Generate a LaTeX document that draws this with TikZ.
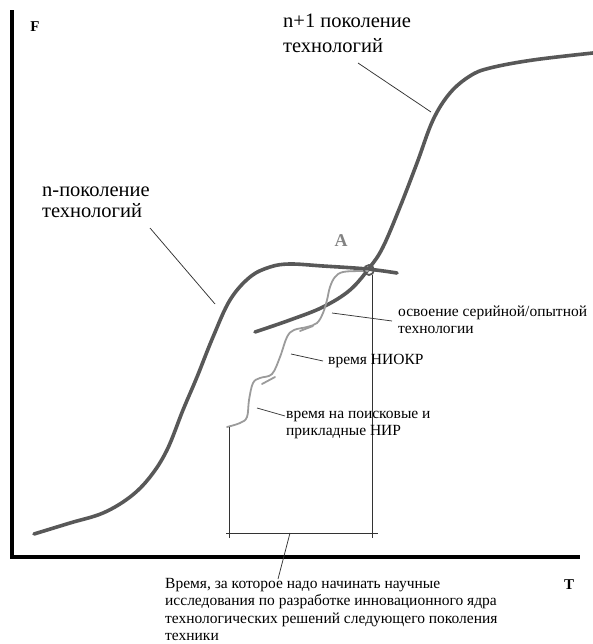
\documentclass[tikz,border=0pt]{standalone}
\usepackage{fontspec}
\setmainfont{Liberation Serif}
\usetikzlibrary{positioning}
\definecolor{curvegray}{RGB}{88,88,88}
\definecolor{wigglegray}{RGB}{155,155,155}
\definecolor{agray}{RGB}{130,130,130}

\begin{document}
\begin{tikzpicture}[
  x=1pt, y=-1pt,
  axis/.style={line width=3.4pt, line cap=rect},
  scurve/.style={line width=3.6pt, draw=curvegray, line cap=round},
  wiggle/.style={line width=1.8pt, draw=wigglegray, line cap=round},
  lead/.style={line width=0.75pt, draw=black!80},
  lbl/.style={inner sep=0pt, anchor=base west, align=left, font=\fontsize{15.5}{17}\selectfont},
  biglbl/.style={inner sep=0pt, anchor=base west, align=left},
  axlbl/.style={inner sep=0pt, font=\fontsize{15}{17}\selectfont\bfseries}
]
\useasboundingbox (0,0) rectangle (593,644);
% axes
\coordinate (Ytop) at (12,12);
\coordinate (O) at (12,557);
\coordinate (Xend) at (578,557);
\draw[axis] (Ytop) -- (O) -- (Xend);
\node[axlbl] (F) at (35,27) {F};
\node[axlbl] (T) at (569,585) {T};
% n generation
\draw[scurve] plot[smooth, tension=0.6] coordinates {(34,534) (70,523) (103,513) (130,497) (150,477) (167,450) (183,410) (197,377) (213,337) (230,300) (250,277) (270,267) (290,264) (323,266) (367,269) (397,273)};
% n+1 generation
\draw[scurve] plot[smooth, tension=0.6] coordinates {(255,332) (290,320) (323,307) (350,290) (370,267) (383,247) (400,207) (417,163) (433,120) (450,93) (470,76) (490,68) (533,60) (593,53)};
% research path
\draw[wiggle] plot[smooth, tension=0.6] coordinates {(227,427) (240,423) (247,417) (249,400) (253,383) (260,378) (272,374) (280,357) (287,337) (294,330) (307,327) (317,323) (323,313) (327,300) (330,287) (335,277) (343,272) (360,271) (368,271)};
\draw[wiggle] (262,384) -- (275,377);
\draw[wiggle] (300,331) -- (313,326);
% point A
\node[circle, draw=curvegray, line width=1.8pt, minimum size=10pt, inner sep=0pt] (Apt) at (369,270) {};
\node[inner sep=0pt, text=agray, font=\fontsize{18}{20}\selectfont\bfseries] (A) at (341,241) {A};
% time bracket
\coordinate (Lt) at (229,427);
\coordinate (Lb) at (229,538);
\coordinate (Rt) at (372,275);
\coordinate (Rb) at (372,538);
\coordinate (Hl) at (226,533);
\coordinate (Hr) at (378,533);
\coordinate (Hm) at (290,533);
\draw[lead] (Lt) -- (Lb);
\draw[lead] (Rt) -- (Rb);
\draw[lead] (Hl) -- (Hr);
% labels (base = last line)
\node[biglbl, font=\fontsize{20.5}{25}\selectfont] (nplus) at (283,53) {n+1 поколение\\технологий};
\node[biglbl, font=\fontsize{20.5}{21.5}\selectfont] (ngen) at (42,218) {n-поколение\\технологий};
\node[lbl] (osv) at (398,333) {освоение серийной/опытной\\технологии};
\node[lbl] (niokr) at (328,364) {время НИОКР};
\node[lbl] (nir) at (286,435) {время на поисковые и\\прикладные НИР};
\node[lbl, font=\fontsize{15.5}{17.5}\selectfont] (start) at (165,640.5) {Время, за которое надо начинать научные\\исследования по разработке инновационного ядра\\технологических решений следующего поколения\\техники};
% leaders
\coordinate (nplusA) at (358,63);
\coordinate (nplusB) at (431,112);
\coordinate (ngenA) at (150,228);
\coordinate (ngenB) at (215,304);
\coordinate (osvA) at (332,313);
\coordinate (osvB) at (392,321);
\coordinate (niokrA) at (291,354);
\coordinate (niokrB) at (323,361);
\coordinate (nirA) at (257,408);
\coordinate (nirB) at (285,416);
\coordinate (startB) at (278,579);
\foreach \a/\b in {nplusA/nplusB, ngenA/ngenB, osvA/osvB, niokrA/niokrB, nirA/nirB, Hm/startB}
  \draw[lead] (\a) -- (\b);
\end{tikzpicture}
\end{document}
